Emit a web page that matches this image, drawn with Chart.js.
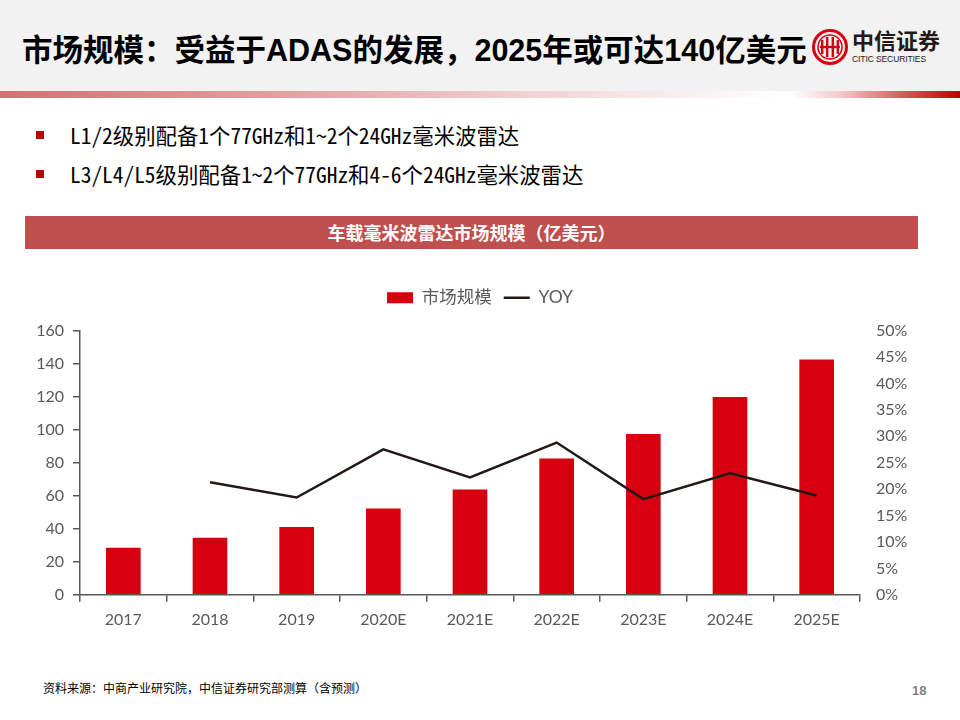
<!DOCTYPE html>
<html>
<head>
<meta charset="utf-8">
<script src="https://cdn.jsdelivr.net/npm/chart.js@4.4.1/dist/chart.umd.min.js"></script>
<style>
  html, body { margin:0; padding:0; background:#ffffff; }
  body { width:960px; height:720px; position:relative; overflow:hidden; font-family:"Noto Sans CJK SC", sans-serif; }
  #header { position:absolute; left:0; top:0; width:960px; height:91px; background:#f2f2f2; }
  #title { position:absolute; left:22px; top:31px; font-size:30.5px; font-weight:bold; color:#000; white-space:nowrap; line-height:38px;
           font-family:"Liberation Sans","Noto Sans CJK SC",sans-serif; }
  #stripe { position:absolute; left:0; top:91px; width:960px; height:7px;
            background:linear-gradient(to right, #d27272 0px, #e3a3a3 300px, #f7e3e3 620px, #ffffff 780px, #ffffff 790px, #f3caca 840px, #d96060 900px, #c00000 960px); }
  #logo { position:absolute; left:812px; top:26px; width:145px; height:44px; }
  #logo .cn { position:absolute; left:40px; top:0px; font-size:22px; font-weight:bold; color:#231815; letter-spacing:0px; line-height:27px; }
  #logo .en { position:absolute; left:40px; top:28px; font-size:8.5px; color:#231815; font-family:"Liberation Sans",sans-serif; line-height:10px; letter-spacing:-0.1px; }
  .bullet { position:absolute; left:70px; font-size:21.4px; color:#000; white-space:nowrap; line-height:26px;
            font-family:"Noto Sans Mono CJK SC","Liberation Mono","Noto Sans CJK SC",monospace; }
  .sq { position:absolute; left:36px; width:8px; height:8px; background:#c00000; }
  #banner { position:absolute; left:25px; top:216px; width:893px; height:33px; background:#c0504d; color:#fff; font-weight:bold;
            font-size:18px; text-align:center; line-height:33px; }
  #chartBox { position:absolute; left:0; top:277px; width:960px; height:360px; }
  #source { position:absolute; left:43px; top:679px; font-size:12px; color:#000; white-space:nowrap; }
  #page { position:absolute; left:912px; top:683px; font-size:13px; color:#7f7f7f; font-weight:bold; font-family:"Liberation Sans",sans-serif; }
</style>
</head>
<body>
<div id="header">
  <div id="title">市场规模：受益于ADAS的发展，2025年或可达140亿美元</div>
  <div id="logo">
    <svg width="38" height="40" viewBox="0 0 38 40" style="position:absolute;left:0;top:2px">
      <circle cx="18" cy="19" r="16.5" fill="none" stroke="#d7000f" stroke-width="3"/>
      <circle cx="18" cy="19" r="12" fill="none" stroke="#d7000f" stroke-width="1.5"/>
      <rect x="9" y="12" width="2.4" height="14" fill="#d7000f"/>
      <rect x="14" y="9" width="2.4" height="20" fill="#d7000f"/>
      <rect x="19.6" y="9" width="2.4" height="20" fill="#d7000f"/>
      <rect x="24.6" y="12" width="2.4" height="14" fill="#d7000f"/>
      <rect x="8" y="17.8" width="20" height="2.4" fill="#d7000f"/>
    </svg>
    <div class="cn">中信证券</div>
    <div class="en">CITIC SECURITIES</div>
  </div>
</div>
<div id="stripe"></div>

<div class="sq" style="top:131px"></div>
<div class="bullet" style="top:122px">L1/2级别配备1个77GHz和1~2个24GHz毫米波雷达</div>
<div class="sq" style="top:170px"></div>
<div class="bullet" style="top:161px">L3/L4/L5级别配备1~2个77GHz和4-6个24GHz毫米波雷达</div>

<div id="banner">车载毫米波雷达市场规模（亿美元）</div>

<div id="chartBox"><canvas id="c" width="960" height="360"></canvas></div>

<div id="source">资料来源：中商产业研究院，中信证券研究部测算（含预测）</div>
<div id="page">18</div>

<script>
const categories = ["2017","2018","2019","2020E","2021E","2022E","2023E","2024E","2025E"];
const marketSize = [28.5, 34.5, 41.0, 52.2, 63.8, 82.5, 97.4, 119.8, 142.4];
const yoy = [null, 0.213, 0.184, 0.275, 0.222, 0.288, 0.181, 0.230, 0.188];
const leftTicks = [0, 20, 40, 60, 80, 100, 120, 140, 160];
const rightTicks = [0, 0.05, 0.10, 0.15, 0.20, 0.25, 0.30, 0.35, 0.40, 0.45, 0.50];

const axisColor = '#595959';
const tickFont = { family: "Lato, 'Noto Sans CJK SC', sans-serif", size: 16 };

const legendMargin = {
  id: 'legendMargin',
  beforeInit(chart) {
    const origFit = chart.legend.fit;
    chart.legend.fit = function () { origFit.call(this); this.height += 14; };
  }
};

new Chart(document.getElementById('c'), {
  data: {
    labels: categories,
    datasets: [
      { type: 'line', label: 'YOY', data: yoy, yAxisID: 'y1', borderColor: '#231815', backgroundColor: '#231815',
        borderWidth: 2.5, pointRadius: 0, tension: 0, spanGaps: false, pointStyle: 'line', order: 0 },
      { type: 'bar', label: '市场规模', data: marketSize, yAxisID: 'y', backgroundColor: '#d7000f', borderWidth: 0,
        categoryPercentage: 1.0, barPercentage: 0.4, pointStyle: 'rect', order: 1 }
    ]
  },
  plugins: [legendMargin],
  options: {
    responsive: false,
    animation: false,
    layout: { padding: { top: 0, bottom: 0, left: 0, right: 0 } },
    plugins: {
      legend: {
        display: true, position: 'top', reverse: true,
        labels: { usePointStyle: true, pointStyleWidth: 26, boxHeight: 11, padding: 12, color: '#595959',
                  font: { family: "Lato, 'Noto Sans CJK SC', sans-serif", size: 17.5 } }
      },
      tooltip: { enabled: false }
    },
    scales: {
      x: {
        grid: { display: true, drawOnChartArea: false, drawTicks: true, tickLength: 7, color: axisColor, lineWidth: 1.5, offset: true },
        border: { display: true, color: axisColor, width: 1.5 },
        ticks: { color: axisColor, font: tickFont, padding: 8 }
      },
      y: {
        position: 'left', min: 0, max: 160,
        afterBuildTicks: (s) => { s.ticks = leftTicks.map(v => ({ value: v })); },
        afterFit: (s) => { s.width = 80; },
        grid: { display: true, drawOnChartArea: false, drawTicks: true, tickLength: 7, color: axisColor, lineWidth: 1.5 },
        border: { display: true, color: axisColor, width: 1.5 },
        ticks: { color: axisColor, font: tickFont, padding: 9 }
      },
      y1: {
        position: 'right', min: 0, max: 0.5,
        afterBuildTicks: (s) => { s.ticks = rightTicks.map(v => ({ value: v })); },
        afterFit: (s) => { s.width = 100; },
        grid: { display: false, drawTicks: false },
        border: { display: false },
        ticks: { color: axisColor, font: tickFont, padding: 16, callback: (v) => Math.round(v * 100) + '%' }
      }
    }
  }
});
</script>
</body>
</html>
